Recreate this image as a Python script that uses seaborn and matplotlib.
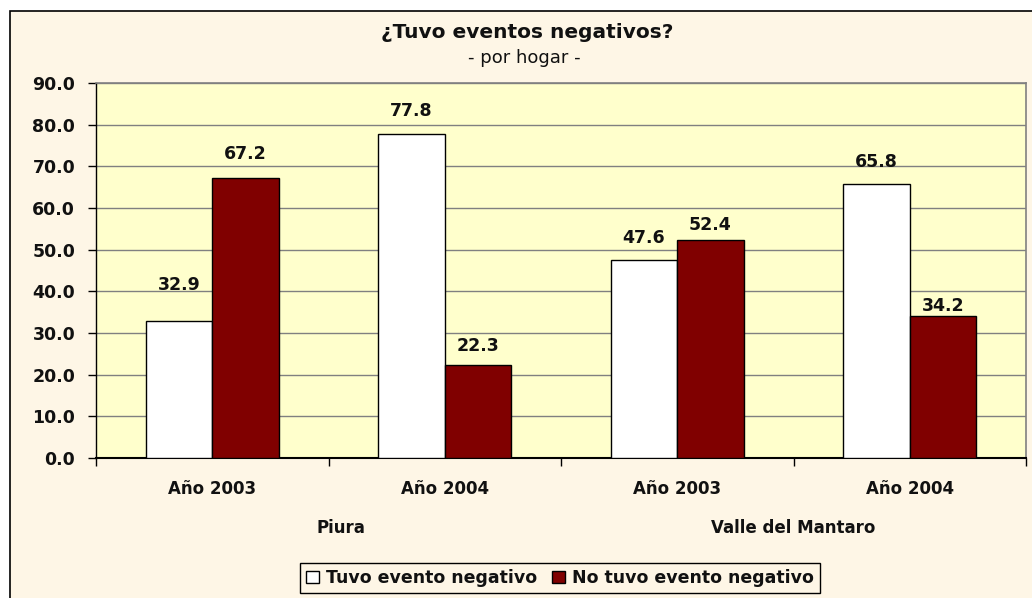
import matplotlib
matplotlib.use("Agg")
import pandas as pd
import seaborn as sns
import matplotlib.pyplot as plt
from matplotlib.patches import Rectangle, Patch
from matplotlib.ticker import FormatStrFormatter, FixedLocator

regiones = ["Piura", "Piura", "Valle del Mantaro", "Valle del Mantaro"]
anios = ["Año 2003", "Año 2004", "Año 2003", "Año 2004"]
tuvo = [32.9, 77.8, 47.6, 65.8]
no_tuvo = [67.2, 22.3, 52.4, 34.2]
series = ["Tuvo evento negativo", "No tuvo evento negativo"]
grupos = ["Piura", "Valle del Mantaro"]

# desplazamiento (px) de cada etiqueta sobre su barra, como en el original
desp_etiquetas = [[35.5, 22.5, 21.5, 22], [23.5, 19, 15, 9.5]]

claves = [r + " " + a for r, a in zip(regiones, anios)]
df = pd.DataFrame({
    "clave": claves * 2,
    "serie": [series[0]] * 4 + [series[1]] * 4,
    "valor": tuvo + no_tuvo,
})

sns.set_style("white")
plt.rcParams["font.family"] = ["DejaVu Sans"]
TXT = "#111111"

fig = plt.figure(figsize=(10.32, 5.98), dpi=100, facecolor="white")
fig.patches.append(Rectangle((10 / 1032, -0.05), 1.1, 1 - 11 / 598 + 0.05,
                             transform=fig.transFigure, facecolor="#FEF6E6",
                             edgecolor="black", linewidth=1.2, zorder=-5))

ax = fig.add_axes([96 / 1032, 140 / 598, 930 / 1032, 375 / 598])
ax.set_facecolor("#FFFFCC")

sns.barplot(data=df, x="clave", y="valor", hue="serie", order=claves,
            hue_order=series, palette=["white", "#800000"], saturation=1,
            edgecolor="black", linewidth=1, width=0.572, legend=False, ax=ax, zorder=3)

for c, desp in zip(ax.containers, desp_etiquetas):
    for barra, d in zip(c, desp):
        x = barra.get_x() + barra.get_width() / 2
        y = barra.get_height()
        ax.annotate(f"{y:.1f}", (x, y), xytext=(0, d * 0.72), textcoords="offset points",
                    ha="center", va="center", fontsize=12.5, fontweight="bold",
                    color=TXT, zorder=5)

ax.set_ylim(0, 90)
ax.set_xlim(-0.5, 3.5)
ax.set_yticks(range(0, 91, 10))
ax.yaxis.set_major_formatter(FormatStrFormatter("%.1f"))
ax.grid(axis="y", color="#808080", linewidth=1, zorder=1)
ax.set_axisbelow(True)
ax.set_xticks(range(4))
ax.set_xticklabels(anios, fontsize=12, fontweight="bold", color=TXT)
ax.xaxis.set_minor_locator(FixedLocator([-0.5, 0.5, 1.5, 2.5, 3.5]))
ax.tick_params(axis="x", which="major", bottom=True, length=0, pad=16)
ax.tick_params(axis="x", which="minor", bottom=True, length=6, width=1,
               color="black", direction="out")
ax.tick_params(axis="y", left=True, length=6, width=1, color="black",
               direction="out", pad=9)
for t in ax.get_yticklabels():
    t.set_fontsize(12.5)
    t.set_fontweight("bold")
    t.set_color(TXT)
ax.set_xlabel("")
ax.set_ylabel("")

for s in ["top", "right"]:
    ax.spines[s].set_color("#808080")
    ax.spines[s].set_linewidth(1.2)
ax.spines["left"].set_color("black")
ax.spines["bottom"].set_color("black")
ax.spines["left"].set_linewidth(1)
ax.spines["bottom"].set_linewidth(1.5)

# etiquetas de grupo
fig.text(341 / 1032, 1 - 528 / 598, grupos[0], ha="center", va="center",
         fontsize=12, fontweight="bold", color=TXT)
fig.text(793 / 1032, 1 - 528 / 598, grupos[1], ha="center", va="center",
         fontsize=12, fontweight="bold", color=TXT)

fig.text(527 / 1032, 1 - 33 / 598, "¿Tuvo eventos negativos?", ha="center",
         va="center", fontsize=14.5, fontweight="bold", color=TXT)
fig.text(524 / 1032, 1 - 58 / 598, "- por hogar -", ha="center", va="center",
         fontsize=13, color=TXT)

handles = [Patch(facecolor="white", edgecolor="black", label=series[0]),
           Patch(facecolor="#800000", edgecolor="black", label=series[1])]
leg = fig.legend(handles=handles, loc="center", bbox_to_anchor=(560 / 1032, 1 - 578 / 598),
                 ncol=2, frameon=True, fancybox=False, edgecolor="black",
                 facecolor="#FEF6E6", framealpha=1, prop={"size": 12.5, "weight": "bold"},
                 handlelength=0.75, handleheight=0.75, handletextpad=0.4,
                 columnspacing=0.9, borderpad=0.35)
leg.get_frame().set_linewidth(1)
for t in leg.get_texts():
    t.set_color(TXT)

fig.savefig("out.png", dpi=100)
